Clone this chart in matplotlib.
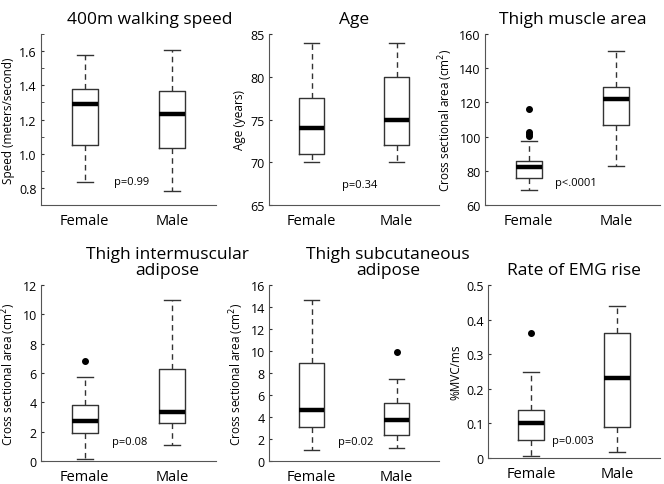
import matplotlib.pyplot as plt
import numpy as np
from matplotlib.ticker import MultipleLocator

plt.rcParams['font.family'] = ['Open Sans', 'DejaVu Sans']

groups = ['Female', 'Male']

# speed (m/s): low whisker, q1, median, q3, high whisker
speed_f = [0.835, 1.05, 1.29, 1.38, 1.58]
speed_m = [0.78, 1.035, 1.235, 1.365, 1.605]
# age (years)
age_f = [70, 71, 74, 77.5, 84]
age_m = [70, 72, 75, 80, 84]
# thigh muscle area (cm2)
muscle_f = [68.5, 76, 82.5, 86, 97.5]
muscle_m = [83, 107, 122, 129, 150]
muscle_f_out = [100.5, 101.5, 102.5, 116]
# intermuscular adipose
inter_f = [0.15, 1.9, 2.7, 3.8, 5.73]
inter_m = [1.1, 2.6, 3.35, 6.28, 10.95]
inter_f_out = [6.8]
# subcutaneous adipose
subq_f = [1.0, 3.1, 4.68, 8.88, 14.6]
subq_m = [1.2, 2.4, 3.7, 5.24, 7.45]
subq_m_out = [9.9]
# rate of EMG rise
emg_f = [0.007, 0.051, 0.1, 0.138, 0.248]
emg_m = [0.017, 0.091, 0.23, 0.36, 0.44]
emg_f_out = [0.362]

pvals = ['p=0.99', 'p=0.34', 'p<.0001', 'p=0.08', 'p=0.02', 'p=0.003']
p_pos = [(1.33, 0.835), (1.36, 67.4), (1.3, 73), (1.31, 1.3), (1.31, 1.75), (1.24, 0.052)]

def stats(v, fl=()):
    return dict(whislo=v[0], q1=v[1], med=v[2], q3=v[3], whishi=v[4], fliers=list(fl))

panels = [
    ('400m walking speed', 'Speed (meters/second)', [stats(speed_f), stats(speed_m)],
     (0.7, 1.7), [0.8, 1.0, 1.2, 1.4, 1.6], '%.1f'),
    ('Age', 'Age (years)', [stats(age_f), stats(age_m)],
     (65, 85), [65, 70, 75, 80, 85], '%d'),
    ('Thigh muscle area', 'Cross sectional area (cm$^2$)', [stats(muscle_f, muscle_f_out), stats(muscle_m)],
     (60, 160), [60, 80, 100, 120, 140, 160], '%d'),
    ('Thigh intermuscular\nadipose', 'Cross sectional area (cm$^2$)', [stats(inter_f, inter_f_out), stats(inter_m)],
     (0, 12), [0, 2, 4, 6, 8, 10, 12], '%d'),
    ('Thigh subcutaneous\nadipose', 'Cross sectional area (cm$^2$)', [stats(subq_f), stats(subq_m, subq_m_out)],
     (0, 16), [0, 2, 4, 6, 8, 10, 12, 14, 16], '%d'),
    ('Rate of EMG rise', '%MVC/ms', [stats(emg_f, emg_f_out), stats(emg_m)],
     (0, 0.5), [0, 0.1, 0.2, 0.3, 0.4, 0.5], None),
]

W, H = 664, 485
rects = [(41, 35, 175, 171), (269, 35, 170, 171), (485, 35, 175, 171),
         (41, 286, 175, 176), (269, 286, 170, 176), (488, 286, 172, 173)]
title_dx = [0.12, 0, 0, 0.22, 0.2, 0]

fig = plt.figure(figsize=(6.64, 4.85), dpi=100)
ec = '#333333'
for i, (title, ylab, st, ylim, ticks, fmt) in enumerate(panels):
    x0, y0, w, h = rects[i]
    ax = fig.add_axes([x0 / W, 1 - (y0 + h) / H, w / W, h / H])
    ax.bxp(st, positions=[1, 2], widths=0.3, capwidths=0.18,
           boxprops=dict(color=ec, linewidth=1),
           whiskerprops=dict(color=ec, linewidth=1, linestyle=(0, (4, 3))),
           capprops=dict(color=ec, linewidth=1),
           medianprops=dict(color='black', linewidth=3.2, solid_capstyle='butt'),
           flierprops=dict(marker='o', markerfacecolor='black', markeredgecolor='black', markersize=4))
    ax.set_xlim(0.5, 2.5)
    ax.set_ylim(*ylim)
    ax.set_yticks(ticks)
    if fmt:
        ax.set_yticklabels([fmt % t for t in ticks])
    else:
        ax.set_yticklabels(['0' if t == 0 else '%g' % t for t in ticks])
    if i == 0:
        ax.yaxis.set_minor_locator(MultipleLocator(0.1))
        ax.tick_params(axis='y', which='minor', length=2, direction='in', color=ec)
    ax.set_xticks([1, 2])
    ax.set_xticklabels(groups, fontsize=10.5)
    ax.tick_params(axis='x', length=0, pad=6)
    ax.tick_params(axis='y', length=2, direction='in', labelsize=9, color=ec, pad=3)
    for s in ['top', 'right']:
        ax.spines[s].set_visible(False)
    for s in ['left', 'bottom']:
        ax.spines[s].set_color('#555555')
    ax.set_ylabel(ylab, fontsize=8.5, labelpad=3)
    ax.text(0.5 + title_dx[i], 1.04, title, transform=ax.transAxes, ha='center', va='bottom',
            fontsize=12.5, linespacing=1.0)
    ax.text(p_pos[i][0], p_pos[i][1], pvals[i], fontsize=8, ha='left', va='center')

fig.savefig('out.png', dpi=100)
